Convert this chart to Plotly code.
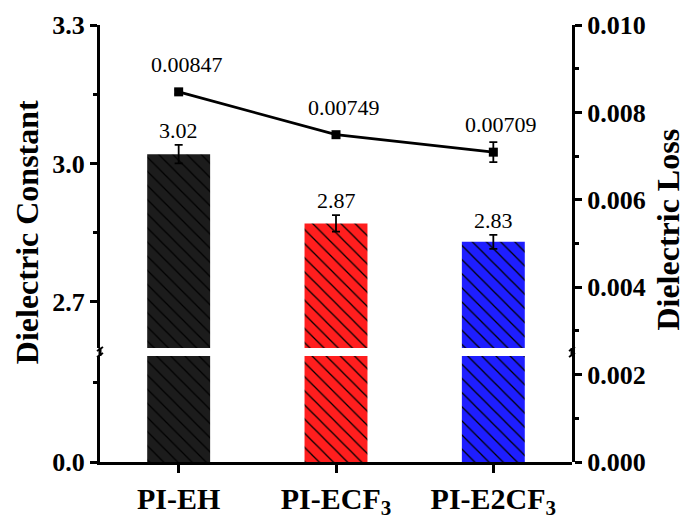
import plotly.graph_objects as go

# ---- data ----
categories = ["PI-EH", "PI-ECF<sub>3</sub>", "PI-E2CF<sub>3</sub>"]
dielectric_constant = [3.02, 2.87, 2.83]
dc_error = [0.020, 0.018, 0.015]
dc_labels = ["3.02", "2.87", "2.83"]
dielectric_loss = [0.00847, 0.00749, 0.00709]
loss_error = [0.00005, 0.00003, 0.00023]
loss_labels = ["0.00847", "0.00749", "0.00709"]
bar_colors = ["#1c1c1c", "#ff1e1e", "#1e1eff"]

xs = list(range(len(categories)))

SERIF = "Liberation Serif"

fig = go.Figure()

for i in xs:
    pattern = dict(shape="\\", fgcolor="black", bgcolor=bar_colors[i], fgopacity=1,
                   fillmode="replace", size=10, solidity=0.13)
    # upper segment (broken axis, top part)
    fig.add_trace(go.Bar(
        x=[xs[i]], y=[dielectric_constant[i]], xaxis="x", yaxis="y", width=0.4,
        marker=dict(color=bar_colors[i], line=dict(width=0), pattern=pattern),
        error_y=dict(type="data", array=[dc_error[i]], color="black", thickness=1.8, width=4),
        showlegend=False, hoverinfo="skip"))
    # lower segment (broken axis, bottom part)
    fig.add_trace(go.Bar(
        x=[xs[i]], y=[dielectric_constant[i]], xaxis="x", yaxis="y2", width=0.4,
        marker=dict(color=bar_colors[i], line=dict(width=0), pattern=pattern),
        showlegend=False, hoverinfo="skip"))

# dielectric loss line
fig.add_trace(go.Scatter(
    x=xs, y=dielectric_loss, xaxis="x", yaxis="y3", mode="lines+markers",
    line=dict(color="black", width=2.8),
    marker=dict(symbol="square", size=9, color="black"),
    error_y=dict(type="data", array=loss_error, color="black", thickness=1.8, width=4),
    showlegend=False, hoverinfo="skip"))

tick_font = dict(family=SERIF, size=26, color="black", weight="bold")
axis_common = dict(showline=True, linewidth=3, linecolor="black", ticks="outside",
                   ticklen=7, tickwidth=3, tickcolor="black", showgrid=False,
                   zeroline=False, tickfont=tick_font, automargin=False)

LOW_TOP = 0.2426
UP_BOT = 0.2609

fig.update_layout(
    width=684, height=519, barmode="overlay",
    margin=dict(l=100, r=112, t=25, b=57, autoexpand=False),
    paper_bgcolor="white", plot_bgcolor="rgba(0,0,0,0)",
    xaxis=dict(domain=[0, 1], anchor="y2", range=[-0.5, 2.5],
               tickmode="array", tickvals=xs, ticktext=categories,
               showline=True, linewidth=3, linecolor="black", ticks="outside",
               ticklen=8, tickwidth=3, tickcolor="black", showgrid=False,
               zeroline=False, automargin=False,
               tickfont=dict(family=SERIF, size=30, color="black", weight="bold")),
    yaxis=dict(domain=[UP_BOT, 1], anchor="x", range=[2.6, 3.3],
               tick0=2.7, dtick=0.3, tickformat=".1f",
               minor=dict(dtick=0.15, tick0=2.7, ticks="outside", ticklen=4,
                          tickwidth=3, tickcolor="black", showgrid=False),
               **axis_common),
    yaxis2=dict(domain=[0, LOW_TOP], anchor="x", range=[0, 0.2],
                tickmode="array", tickvals=[0], tickformat=".1f",
                minor=dict(tickmode="array", tickvals=[0.15], ticks="outside", ticklen=4,
                           tickwidth=3, tickcolor="black", showgrid=False),
                **axis_common),
    yaxis3=dict(domain=[0, 1], anchor="x", side="right", range=[0, 0.010],
                tick0=0, dtick=0.002, tickformat=".3f",
                minor=dict(dtick=0.001, ticks="outside", ticklen=4,
                           tickwidth=3, tickcolor="black", showgrid=False),
                **axis_common),
)

annotations = []
for i in xs:
    annotations.append(dict(x=i, y=dielectric_constant[i] + dc_error[i], xref="x", yref="y",
                            text=dc_labels[i], showarrow=False, yanchor="bottom", yshift=0,
                            font=dict(family=SERIF, size=22, color="black")))
    annotations.append(dict(x=i, y=dielectric_loss[i], xref="x", yref="y3",
                            text=loss_labels[i], showarrow=False, yanchor="bottom",
                            yshift=13, xshift=8,
                            font=dict(family=SERIF, size=22, color="black")))
annotations.append(dict(x=-0.1545, y=0.526, xref="paper", yref="paper",
                        text="Dielectric Constant", textangle=-90, showarrow=False,
                        xanchor="center", yanchor="middle",
                        font=dict(family=SERIF, size=32, color="black", weight="bold")))
annotations.append(dict(x=1.2015, y=0.532, xref="paper", yref="paper",
                        text="Dielectric Loss", textangle=-90, showarrow=False,
                        xanchor="center", yanchor="middle",
                        font=dict(family=SERIF, size=32, color="black", weight="bold")))
fig.update_layout(annotations=annotations)

# axis line continuity through the break and break glyphs
shapes = []
for xp in (0, 1):
    shapes.append(dict(type="line", xref="paper", yref="paper", x0=xp, x1=xp,
                       y0=LOW_TOP, y1=UP_BOT, line=dict(color="black", width=3)))
    shapes.append(dict(type="path", xref="paper", yref="paper",
                       xsizemode="pixel", ysizemode="pixel",
                       xanchor=xp, yanchor=(LOW_TOP + UP_BOT) / 2,
                       path="M -3,-5 L 3,-1 M -3,1 L 3,5",
                       line=dict(color="black", width=2)))
fig.update_layout(shapes=shapes)

fig.write_html("out.html", config={"displayModeBar": False},
               post_script="document.body.style.margin='0';document.body.style.overflow='hidden';")
